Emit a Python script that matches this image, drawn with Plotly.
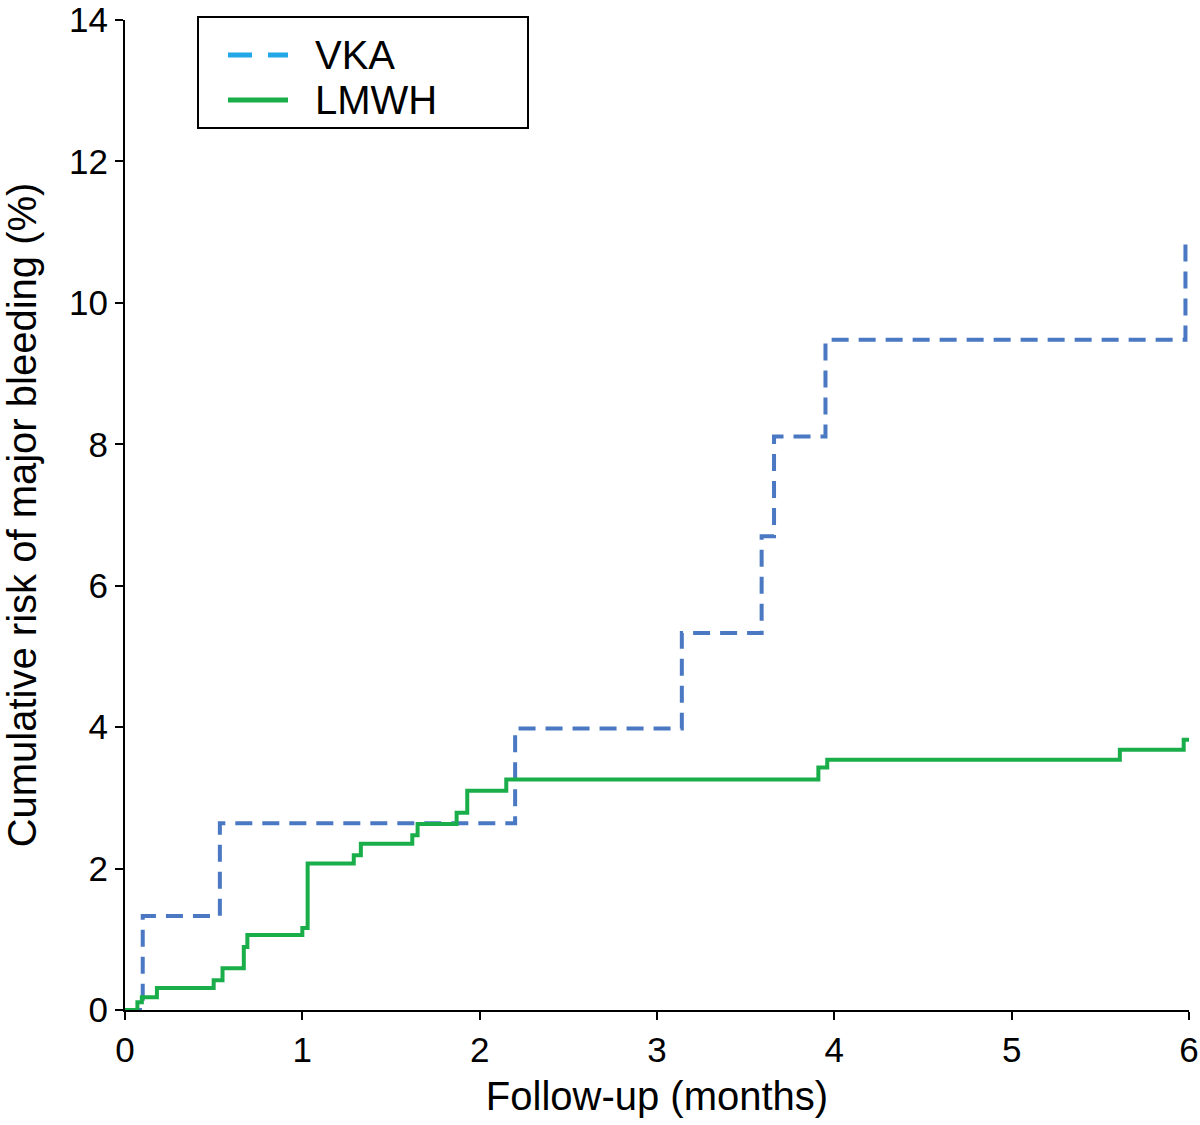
import plotly.graph_objects as go

# VKA Kaplan-Meier style step data (months, cumulative %)
vka_time = [0.0, 0.10, 0.535, 2.20, 3.14, 3.59, 3.66, 3.95, 5.98]
vka_risk = [0.0, 1.33, 2.64, 3.98, 5.33, 6.70, 8.11, 9.48, 10.95]

# LMWH step data
lmwh_time = [0.0, 0.07, 0.095, 0.18, 0.50, 0.55, 0.67, 0.69, 1.00, 1.03, 1.29, 1.33,
             1.62, 1.65, 1.87, 1.93, 2.15, 3.91, 3.96, 5.61, 5.97, 6.0]
lmwh_risk = [0.0, 0.11, 0.18, 0.31, 0.42, 0.59, 0.89, 1.06, 1.16, 2.07, 2.19, 2.35,
             2.47, 2.63, 2.79, 3.10, 3.26, 3.43, 3.54, 3.68, 3.82, 3.82]

x_ticks = [0, 1, 2, 3, 4, 5, 6]
y_ticks = [0, 2, 4, 6, 8, 10, 12, 14]
series_names = ["VKA", "LMWH"]

VKA_LINE = "#4a78c2"
VKA_LEG = "#22a8e6"
LMWH_LINE = "#1aae4a"
FONT = "Liberation Sans, Arial, sans-serif"

L, R, T, B = 125, 11, 20, 115
W, H = 1200, 1125
PW, PH = W - L - R, H - T - B


def px_x(px):
    return (px - L) / PW


def px_y(py):
    return (H - B - py) / PH


fig = go.Figure()
fig.add_trace(go.Scatter(x=vka_time, y=vka_risk, mode="lines", line_shape="hv",
                         line=dict(color=VKA_LINE, width=4, dash="17px,10px"),
                         showlegend=False, name=series_names[0]))
fig.add_trace(go.Scatter(x=lmwh_time, y=lmwh_risk, mode="lines", line_shape="hv",
                         line=dict(color=LMWH_LINE, width=4),
                         showlegend=False, name=series_names[1]))

# legend (drawn as box, samples and text)
shapes = [
    dict(type="rect", xref="paper", yref="paper",
         x0=px_x(198), x1=px_x(528), y0=px_y(128), y1=px_y(17),
         line=dict(color="black", width=2), fillcolor="white", layer="above"),
    dict(type="line", xref="paper", yref="paper",
         x0=px_x(228), x1=px_x(288), y0=px_y(55), y1=px_y(55),
         line=dict(color=VKA_LEG, width=5, dash="24px,16px"), layer="above"),
    dict(type="line", xref="paper", yref="paper",
         x0=px_x(228), x1=px_x(288), y0=px_y(100), y1=px_y(100),
         line=dict(color=LMWH_LINE, width=5), layer="above"),
]
annotations = [
    dict(text=series_names[0], xref="paper", yref="paper", x=px_x(313), y=px_y(55),
         xanchor="left", yanchor="middle", showarrow=False, font=dict(size=40)),
    dict(text=series_names[1], xref="paper", yref="paper", x=px_x(313), y=px_y(100),
         xanchor="left", yanchor="middle", showarrow=False, font=dict(size=40)),
]

fig.update_layout(
    width=W, height=H,
    margin=dict(l=L, r=R, t=T, b=B),
    paper_bgcolor="white", plot_bgcolor="white",
    font=dict(family=FONT, color="black", size=35),
    showlegend=False,
    shapes=shapes, annotations=annotations,
)
fig.update_xaxes(range=[0, 6], tickvals=x_ticks, showgrid=False, zeroline=False,
                 showline=True, linecolor="black", linewidth=2, automargin=False,
                 ticks="outside", ticklen=8, tickwidth=2, tickcolor="black",
                 tickfont=dict(size=35), ticklabeloverflow="allow",
                 title=dict(text="Follow-up (months)", font=dict(size=40), standoff=14))
fig.update_yaxes(range=[0, 14], tickvals=y_ticks, showgrid=False, zeroline=False,
                 showline=True, linecolor="black", linewidth=2, automargin=False,
                 ticks="outside", ticklen=8, tickwidth=2, tickcolor="black",
                 tickfont=dict(size=35), ticklabeloverflow="allow",
                 title=dict(text="Cumulative risk of major bleeding (%)",
                            font=dict(size=40), standoff=34))

fig.write_html("out.html", config={"displayModeBar": False},
               post_script="document.body.style.margin='0';document.body.style.padding='0';")
